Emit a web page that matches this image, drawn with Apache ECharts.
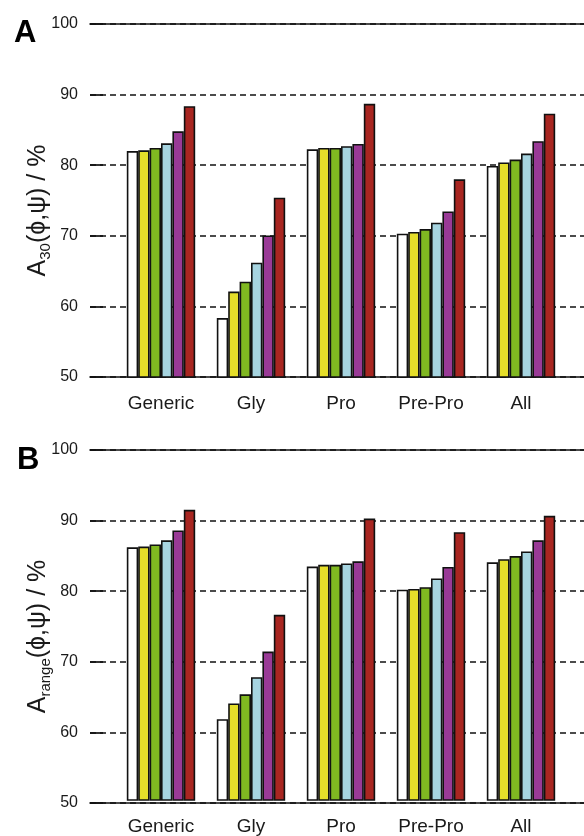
<!DOCTYPE html>
<html>
<head>
<meta charset="utf-8">
<script src="https://cdn.jsdelivr.net/npm/echarts@6/dist/echarts.min.js"></script>
<style>
  html, body { margin: 0; padding: 0; background: #fff; }
  #main { width: 584px; height: 836px; }
</style>
</head>
<body>
<div id="main"></div>
<script>
// categories + tick values
const categories = ['Generic', 'Gly', 'Pro', 'Pre-Pro', 'All'];
const yTicks = [50, 60, 70, 80, 90, 100];
const barColors = ['#ffffff', '#e5de2a', '#80b821', '#a6d4e0', '#993a96', '#a82621'];

// panel A : A30(phi,psi) / %
const a30White  = [82.0, 58.35, 82.25, 70.3, 79.9];
const a30Yellow = [82.1, 62.1, 82.45, 70.55, 80.4];
const a30Green  = [82.45, 63.5, 82.45, 70.95, 80.8];
const a30Blue   = [83.1, 66.2, 82.7, 71.85, 81.65];
const a30Purple = [84.8, 70.05, 83.0, 73.45, 83.4];
const a30Red    = [88.35, 75.4, 88.7, 78.0, 87.3];

// panel B : Arange(phi,psi) / %
const rangeWhite  = [86.1, 61.55, 83.35, 80.05, 83.95];
const rangeYellow = [86.2, 63.8, 83.6, 80.15, 84.4];
const rangeGreen  = [86.5, 65.1, 83.6, 80.4, 84.85];
const rangeBlue   = [87.1, 67.55, 83.8, 81.65, 85.5];
const rangePurple = [88.5, 71.2, 84.1, 83.3, 87.1];
const rangeRed    = [91.45, 76.45, 90.2, 88.25, 90.6];

const panelA = [a30White, a30Yellow, a30Green, a30Blue, a30Purple, a30Red];
const panelB = [rangeWhite, rangeYellow, rangeGreen, rangeBlue, rangePurple, rangeRed];

const FONT = "'Liberation Sans', Arial, sans-serif";
const INK = '#1a1a1a';

const chart = echarts.init(document.getElementById('main'));

const panelTops = [24, 450];
const panelH = 353;

const grids = [];
const xAxes = [];
const yAxes = [];
const series = [];

function frameX(gi, pos) {
  return {
    gridIndex: gi, type: 'value', min: 0, max: 1, position: pos,
    axisLine: { show: true, onZero: false, lineStyle: { color: '#111', width: 1.6 } },
    axisTick: { show: false }, axisLabel: { show: false }, splitLine: { show: false }
  };
}

function addPanel(p, data, nameText) {
  const top = panelTops[p];
  const frameGrid = grids.length;
  grids.push({ left: 90, right: 0, top: top, height: panelH });
  const barGrid = grids.length;
  grids.push({ left: 116, width: 450, top: top, height: panelH });

  xAxes.push(frameX(frameGrid, 'bottom'));
  xAxes.push(frameX(frameGrid, 'top'));
  const barX = xAxes.length;
  xAxes.push({
    gridIndex: barGrid, type: 'category', data: categories,
    axisLine: { show: false }, axisTick: { show: false },
    axisLabel: { fontSize: 19, color: INK, fontFamily: FONT, margin: 17 }
  });

  yAxes.push({
    gridIndex: frameGrid, type: 'value', min: yTicks[0], max: yTicks[yTicks.length - 1], interval: 10,
    axisLine: { show: false },
    axisTick: { show: true, inside: true, length: 13, lineStyle: { color: '#111', width: 1.7 } },
    axisLabel: { fontSize: 16, color: INK, fontFamily: FONT, margin: 12 },
    splitLine: { show: true, lineStyle: { color: '#111', width: 1.7, type: [6, 4] } },
    name: nameText,
    nameLocation: 'middle',
    nameRotate: 90,
    nameGap: 37,
    nameMoveOverlap: false,
    nameTextStyle: {
      color: INK, fontFamily: FONT,
      padding: [0, 20, 0, 0],
      rich: {
        m: { fontSize: 25, lineHeight: 27, verticalAlign: 'top', fontFamily: FONT, color: INK },
        s: { fontSize: 15, lineHeight: 15, verticalAlign: 'bottom', padding: [18, 0, 0, 0], fontFamily: FONT, color: INK }
      }
    }
  });
  const barY = yAxes.length;
  yAxes.push({ gridIndex: barGrid, type: 'value', min: 50, max: 100, show: false, splitLine: { show: false } });

  data.forEach((vals, k) => {
    series.push({
      type: 'bar', name: 'm' + k,
      xAxisIndex: barX, yAxisIndex: barY,
      data: vals,
      barWidth: 11.4, barGap: '0%',
      itemStyle: { color: barColors[k], borderColor: '#111', borderWidth: 1.6 },
      silent: true
    });
  });
}

addPanel(0, panelA, '{m|A}{s|30}{m|(\u03d5,\u03c8) / %}');
addPanel(1, panelB, '{m|A}{s|range}{m|(\u03d5,\u03c8) / %}');

chart.setOption({
  animation: false,
  backgroundColor: '#fff',
  title: [
    { text: 'A', left: 9, top: 13, textStyle: { fontSize: 31, fontWeight: 'bold', color: '#000', fontFamily: FONT } },
    { text: 'B', left: 12, top: 440, textStyle: { fontSize: 31, fontWeight: 'bold', color: '#000', fontFamily: FONT } }
  ],
  grid: grids,
  xAxis: xAxes,
  yAxis: yAxes,
  series: series
});
</script>
</body>
</html>
